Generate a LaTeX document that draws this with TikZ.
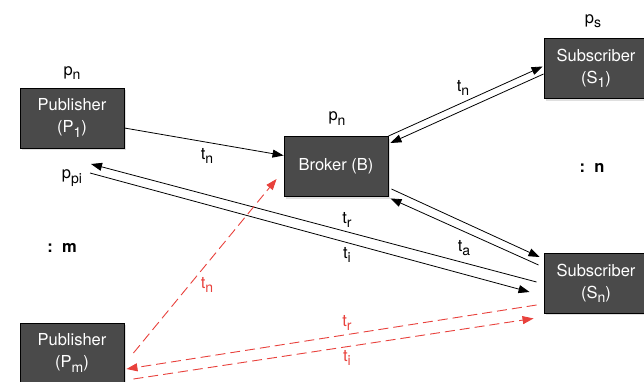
\documentclass[tikz,border=0pt]{standalone}
\usepackage{fontspec}
\setmainfont{TeX Gyre Heros}
\usetikzlibrary{arrows.meta,shadows}
\colorlet{boxfill}{black!71}
\definecolor{alert}{HTML}{E8413C}
\tikzset{
  agent/.style={draw=black,line width=.9pt,fill=boxfill,text=white,align=center,
    minimum width=104pt,minimum height=60pt,inner sep=0pt,
    font=\fontsize{16.5}{22}\selectfont,
    drop shadow={shadow xshift=2pt,shadow yshift=-2pt,opacity=.25}},
  lbl/.style={inner sep=0pt,font=\fontsize{16.5}{18}\selectfont},
  msg/.style={draw=black,line width=.8pt,-{Triangle[length=11pt,width=8pt]}},
  rmsg/.style={draw=alert,line width=.9pt,dash pattern=on 10pt off 5pt,
    -{Triangle[length=11pt,width=8pt]}}
}
\newcommand{\sbs}[1]{\raisebox{-.5ex}{\fontsize{14}{14}\selectfont #1}}

\begin{document}
\begin{tikzpicture}[x=1pt,y=1pt]
  \useasboundingbox (0,0) rectangle (644,381);
  \clip (0,0) rectangle (644,381);
  \node[agent] (pub1) at (72,263) {Publisher\\(P\sbs{1})};
  \node[agent] (broker) at (336,214.5) {Broker (B)};
  \node[agent] (sub1) at (596,312.5) {Subscriber\\(S\sbs{1})};
  \node[agent] (subn) at (596,98) {Subscriber\\(S\sbs{n})};
  \node[agent] (pubm) at (72,28) {Publisher\\(P\sbs{m})};

  \node[lbl] (ppub) at (72,308) {p\sbs{n}};
  \node[lbl] (pbrk) at (337,262.5) {p\sbs{n}};
  \node[lbl] (psub) at (593,360) {p\sbs{s}};
  \node[lbl] (ppi) at (72,203) {p\sbs{pi}};
  \node[lbl,font=\fontsize{16.5}{18}\selectfont\bfseries] (nsub) at (592,213) {:\ \ n};
  \node[lbl,font=\fontsize{16.5}{18}\selectfont\bfseries] (mpub) at (62,133) {:\ \ m};
  \coordinate (ppiin) at (91,217);
  \coordinate (ppiout) at (90,208);

  \draw[msg] ([yshift=-10pt]pub1.east) -- ([yshift=11pt]broker.west);
  \draw[msg] (broker.north east) -- ([shift={(-1pt,2pt)}]sub1.west);
  \draw[msg] ([yshift=-5.5pt]sub1.west) -- ([shift={(2pt,23.5pt)}]broker.east);
  \draw[msg] ([shift={(3pt,-22.5pt)}]broker.east) -- ([shift={(-4pt,26pt)}]subn.west);
  \draw[msg] ([shift={(-5pt,18pt)}]subn.west) -- ([shift={(2pt,-1.5pt)}]broker.south east);
  \draw[msg] ([shift={(-7pt,1pt)}]subn.west) -- (ppiin);
  \draw[msg] (ppiout) -- ([shift={(-14pt,-9pt)}]subn.west);

  \draw[rmsg] ([xshift=9pt]pubm.east) -- ([shift={(-7pt,-12.5pt)}]broker.west);
  \draw[rmsg] ([shift={(-7pt,-22pt)}]subn.west) -- ([shift={(2pt,-16pt)}]pubm.east);
  \draw[rmsg] ([shift={(9pt,-26pt)}]pubm.east) -- ([shift={(-10pt,-5pt)}]subn.south west);

  \node[lbl] (tpub) at (207,225) {t\sbs{n}};
  \node[lbl] (tsub) at (463,293) {t\sbs{n}};
  \node[lbl] (tr) at (347,161) {t\sbs{r}};
  \node[lbl] (ti) at (347,126) {t\sbs{i}};
  \node[lbl] (ta) at (464,133) {t\sbs{a}};
  \node[lbl,text=alert] (trn) at (207,96) {t\sbs{n}};
  \node[lbl,text=alert] (trr) at (347,58) {t\sbs{r}};
  \node[lbl,text=alert] (tri) at (347,23) {t\sbs{i}};
\end{tikzpicture}
\end{document}
